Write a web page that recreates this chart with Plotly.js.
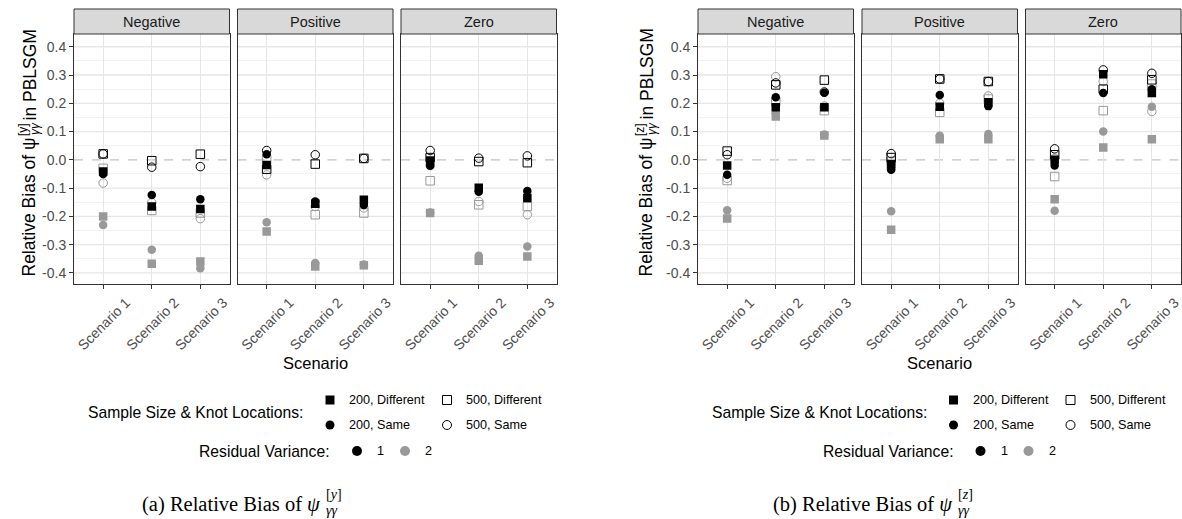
<!DOCTYPE html>
<html>
<head>
<meta charset="utf-8">
<script src="https://cdn.plot.ly/plotly-3.0.1.min.js"></script>
<style>html,body{margin:0;padding:0;background:#fff;}#plot{width:1182px;height:519px;}</style>
</head>
<body>
<div id="plot"></div>
<script>
// ---------------- DATA ----------------
const scenarios = ['Scenario 1', 'Scenario 2', 'Scenario 3'];
const facets = ['Negative', 'Positive', 'Zero'];
const yTickVals = [-0.4, -0.3, -0.2, -0.1, 0, 0.1, 0.2, 0.3, 0.4];
const yTickText = ['-0.4', '-0.3', '-0.2', '-0.1', '0.0', '0.1', '0.2', '0.3', '0.4'];
const refLine = 0;

// values ordered: Negative S1..S3, Positive S1..S3, Zero S1..S3
// (a) relative bias of psi[y]
const psiY_200Diff_v1 = [-0.041, -0.165, -0.174, -0.018, -0.155, -0.141, -0.002, -0.099, -0.135];
const psiY_200Same_v1 = [-0.050, -0.124, -0.139, 0.020, -0.147, -0.160, -0.021, -0.113, -0.110];
const psiY_500Diff_v1 = [0.021, -0.003, 0.020, -0.033, -0.015, 0.005, 0.008, -0.006, -0.010];
const psiY_500Same_v1 = [0.021, -0.026, -0.024, 0.033, 0.018, 0.005, 0.033, 0.006, 0.014];
const psiY_200Diff_v2 = [-0.200, -0.367, -0.359, -0.253, -0.377, -0.373, -0.188, -0.357, -0.342];
const psiY_200Same_v2 = [-0.230, -0.318, -0.383, -0.221, -0.365, -0.370, -0.186, -0.339, -0.306];
const psiY_500Diff_v2 = [-0.030, -0.179, -0.188, 0.000, -0.194, -0.188, -0.074, -0.159, -0.165];
const psiY_500Same_v2 = [-0.082, -0.151, -0.208, -0.053, -0.165, -0.170, -0.020, -0.147, -0.194];

// (b) relative bias of psi[z]
const psiZ_200Diff_v1 = [-0.020, 0.186, 0.186, -0.015, 0.188, 0.204, 0.000, 0.303, 0.236];
const psiZ_200Same_v1 = [-0.053, 0.221, 0.237, -0.035, 0.229, 0.190, -0.020, 0.236, 0.250];
const psiZ_500Diff_v1 = [0.031, 0.265, 0.282, 0.008, 0.286, 0.277, 0.018, 0.250, 0.283];
const psiZ_500Same_v1 = [0.018, 0.272, 0.240, 0.022, 0.286, 0.277, 0.039, 0.318, 0.306];
const psiZ_200Diff_v2 = [-0.207, 0.153, 0.086, -0.247, 0.073, 0.073, -0.139, 0.044, 0.073];
const psiZ_200Same_v2 = [-0.178, 0.165, 0.090, -0.182, 0.085, 0.091, -0.180, 0.100, 0.188];
const psiZ_500Diff_v2 = [-0.073, 0.205, 0.174, -0.005, 0.168, 0.215, -0.059, 0.174, 0.268];
const psiZ_500Same_v2 = [-0.065, 0.294, 0.190, -0.030, 0.200, 0.226, 0.005, 0.277, 0.171];

const sizeKnotLabels = ['200, Different', '500, Different', '200, Same', '500, Same'];
const residVarLabels = ['1', '2'];

// ---------------- STYLE / LAYOUT ----------------
const W = 1182, H = 519;
const px = v => v / W;
const py = v => 1 - v / H;
const BLACK = '#000000', GRAY = '#999999';
const FONT = 'Liberation Sans, Arial, Helvetica, sans-serif';
const SERIF = 'Liberation Serif, Times New Roman, serif';
const GRID = '#e6e6e6';

const charts = [
  {
    series: [
      {y: psiY_200Diff_v2, sym: 'square', col: GRAY},
      {y: psiY_200Same_v2, sym: 'circle', col: GRAY},
      {y: psiY_500Diff_v2, sym: 'square-open', col: GRAY},
      {y: psiY_500Same_v2, sym: 'circle-open', col: GRAY},
      {y: psiY_200Diff_v1, sym: 'square', col: BLACK},
      {y: psiY_200Same_v1, sym: 'circle', col: BLACK},
      {y: psiY_500Diff_v1, sym: 'square-open', col: BLACK},
      {y: psiY_500Same_v1, sym: 'circle-open', col: BLACK}
    ],
    panels: [[74, 229.5], [237.5, 393], [401, 556.5]],
    ylab: 'y', cap: '(a) Relative Bias of ', capSup: '[<i>y</i>]',
    ytitleX: 29, capSplit: 323, legCenter: 316
  },
  {
    series: [
      {y: psiZ_200Diff_v2, sym: 'square', col: GRAY},
      {y: psiZ_200Same_v2, sym: 'circle', col: GRAY},
      {y: psiZ_500Diff_v2, sym: 'square-open', col: GRAY},
      {y: psiZ_500Same_v2, sym: 'circle-open', col: GRAY},
      {y: psiZ_200Diff_v1, sym: 'square', col: BLACK},
      {y: psiZ_200Same_v1, sym: 'circle', col: BLACK},
      {y: psiZ_500Diff_v1, sym: 'square-open', col: BLACK},
      {y: psiZ_500Same_v1, sym: 'circle-open', col: BLACK}
    ],
    panels: [[698, 853.5], [862, 1017.5], [1025.5, 1181]],
    ylab: 'z', cap: '(b) Relative Bias of ', capSup: '[<i>z</i>]',
    ytitleX: 646, capSplit: 955, legCenter: 939.5
  }
];

const plotTop = 34, plotBottom = 284, stripTop = 9;
// minor grid positions (half steps between labelled ticks)
const minorVals = [];
for (let i = 0; i < yTickVals.length - 1; i++) minorVals.push(Math.round((yTickVals[i] + yTickVals[i + 1]) * 50) / 100);

const traces = [];
const layout = {
  width: W, height: H,
  margin: {l: 0, r: 0, t: 0, b: 0},
  paper_bgcolor: '#ffffff', plot_bgcolor: '#ffffff',
  showlegend: false,
  font: {family: FONT, color: '#000000'},
  shapes: [], annotations: []
};

charts.forEach((ch, c) => {
  ch.panels.forEach((pn, f) => {
    const idx = c * 3 + f + 1;
    const xa = 'x' + idx, ya = 'y' + idx;
    const first = f === 0;
    layout['xaxis' + idx] = {
      domain: [px(pn[0]), px(pn[1])], anchor: ya,
      type: 'category', categoryorder: 'array', categoryarray: scenarios,
      range: [-0.6, 2.6], fixedrange: true,
      showgrid: true, gridcolor: GRID, gridwidth: 1.3, zeroline: false,
      showline: true, mirror: true, linecolor: '#333333', linewidth: 1,
      ticks: 'outside', ticklen: 4, tickwidth: 1, tickcolor: '#333333',
      tickangle: -45, ticklabelshift: 23, ticklabelstandoff: 0,
      tickfont: {family: FONT, size: 14, color: '#4d4d4d'}
    };
    layout['yaxis' + idx] = {
      domain: [py(plotBottom), py(plotTop)], anchor: xa,
      range: [-0.439, 0.445], fixedrange: true,
      tickmode: 'array', tickvals: yTickVals, ticktext: yTickText,
      showgrid: false, zeroline: false,
      minor: {tickmode: 'array', tickvals: minorVals, showgrid: true, gridcolor: '#ededed', gridwidth: 0.7, ticks: ''},
      showline: true, mirror: true, linecolor: '#333333', linewidth: 1,
      ticks: first ? 'outside' : '', ticklen: 4, tickwidth: 1, tickcolor: '#333333',
      showticklabels: first,
      tickfont: {family: FONT, size: 14, color: '#4d4d4d'}
    };
    // major horizontal grid lines (all but the dashed reference line position)
    yTickVals.forEach(v => {
      if (v === refLine) return;
      layout.shapes.push({
        type: 'line', xref: xa, yref: ya, x0: -0.6, x1: 2.6, y0: v, y1: v,
        line: {color: GRID, width: 1.3}, layer: 'below'
      });
    });
    // dashed reference line at zero
    layout.shapes.push({
      type: 'line', xref: xa, yref: ya, x0: -0.6, x1: 2.6, y0: refLine, y1: refLine,
      line: {color: '#c2c2c2', width: 1.2, dash: 'dash'}, layer: 'below'
    });
    // strip
    layout.shapes.push({
      type: 'rect', xref: 'paper', yref: 'paper',
      x0: px(pn[0]), x1: px(pn[1]), y0: py(plotTop), y1: py(stripTop),
      fillcolor: '#d9d9d9', line: {color: '#333333', width: 1}
    });
    layout.annotations.push({
      xref: 'paper', yref: 'paper', x: px((pn[0] + pn[1]) / 2), y: py((plotTop + stripTop) / 2),
      text: facets[f], showarrow: false, xanchor: 'center', yanchor: 'middle',
      font: {family: FONT, size: 14.5, color: '#1a1a1a'}
    });
    ch.series.forEach(s => {
      const open = s.sym.indexOf('open') >= 0;
      traces.push({
        type: 'scatter', mode: 'markers', xaxis: xa, yaxis: ya,
        x: scenarios, y: s.y.slice(f * 3, f * 3 + 3),
        marker: {symbol: s.sym, size: 8.5, color: s.col, line: {color: s.col, width: open ? 1 : 0}},
        hoverinfo: 'skip'
      });
    });
  });

  // x title
  const pLeft = ch.panels[0][0], pRight = ch.panels[2][1];
  layout.annotations.push({
    xref: 'paper', yref: 'paper', x: px((pLeft + pRight) / 2), y: py(363),
    text: 'Scenario', showarrow: false, xanchor: 'center', yanchor: 'middle',
    font: {family: FONT, size: 16.5, color: '#000000'}
  });
  // y title pieces (rotated)
  const tx = ch.ytitleX;
  layout.annotations.push(
    {xref: 'paper', yref: 'paper', x: px(tx), y: py(136), text: 'Relative Bias of ψ', textangle: -90,
     showarrow: false, xanchor: 'center', yanchor: 'top', font: {family: FONT, size: 17.5, color: '#000'}},
    {xref: 'paper', yref: 'paper', x: px(tx - 6), y: py(130), text: '[' + ch.ylab + ']', textangle: -90,
     showarrow: false, xanchor: 'center', yanchor: 'middle', font: {family: FONT, size: 12, color: '#000'}},
    {xref: 'paper', yref: 'paper', x: px(tx + 6), y: py(129), text: '<i>γγ</i>', textangle: -90,
     showarrow: false, xanchor: 'center', yanchor: 'middle', font: {family: FONT, size: 12, color: '#000'}},
    {xref: 'paper', yref: 'paper', x: px(tx), y: py(122), text: 'in PBLSGM', textangle: -90,
     showarrow: false, xanchor: 'center', yanchor: 'bottom', font: {family: FONT, size: 17.5, color: '#000'}}
  );

  // legend (manual)
  const lc = ch.legCenter;
  const colA = lc + 14, colB = lc + 131;   // key centers
  const row1 = 400, row2 = 425, row3 = 451;
  layout.annotations.push({
    xref: 'paper', yref: 'paper', x: px(colA - 25), y: py((row1 + row2) / 2),
    text: 'Sample Size &amp; Knot Locations:', showarrow: false, xanchor: 'right', yanchor: 'middle',
    font: {family: FONT, size: 15.7, color: '#000'}
  });
  const keyDefs = [
    {x: colA, y: row1, shape: 'rect', fill: BLACK},
    {x: colB, y: row1, shape: 'rect', fill: 'rgba(0,0,0,0)'},
    {x: colA, y: row2, shape: 'circle', fill: BLACK},
    {x: colB, y: row2, shape: 'circle', fill: 'rgba(0,0,0,0)'}
  ];
  keyDefs.forEach((k, i) => {
    const r = 4.5;
    layout.shapes.push({
      type: k.shape, xref: 'paper', yref: 'paper',
      x0: px(k.x - r), x1: px(k.x + r), y0: py(k.y + r), y1: py(k.y - r),
      fillcolor: k.fill, line: {color: BLACK, width: k.fill === BLACK ? 0 : 1}
    });
    layout.annotations.push({
      xref: 'paper', yref: 'paper', x: px(k.x + 17), y: py(k.y),
      text: sizeKnotLabels[i], showarrow: false, xanchor: 'left', yanchor: 'middle',
      font: {family: FONT, size: 12.6, color: '#000'}
    });
  });
  const rvDot1 = lc + 41, rvDot2 = lc + 89;
  layout.annotations.push({
    xref: 'paper', yref: 'paper', x: px(rvDot1 - 25), y: py(row3),
    text: 'Residual Variance:', showarrow: false, xanchor: 'right', yanchor: 'middle',
    font: {family: FONT, size: 15.7, color: '#000'}
  });
  [[rvDot1, BLACK], [rvDot2, GRAY]].forEach((d, i) => {
    const r = 5;
    layout.shapes.push({
      type: 'circle', xref: 'paper', yref: 'paper',
      x0: px(d[0] - r), x1: px(d[0] + r), y0: py(row3 + r), y1: py(row3 - r),
      fillcolor: d[1], line: {width: 0}
    });
    layout.annotations.push({
      xref: 'paper', yref: 'paper', x: px(d[0] + 18), y: py(row3),
      text: residVarLabels[i], showarrow: false, xanchor: 'left', yanchor: 'middle',
      font: {family: FONT, size: 12.6, color: '#000'}
    });
  });

  // caption
  const cs = ch.capSplit;
  layout.annotations.push(
    {xref: 'paper', yref: 'paper', x: px(cs), y: py(504), text: ch.cap + '<i>ψ</i>', showarrow: false,
     xanchor: 'right', yanchor: 'middle', font: {family: SERIF, size: 20.5, color: '#000'}},
    {xref: 'paper', yref: 'paper', x: px(cs + 1), y: py(494), text: ch.capSup, showarrow: false,
     xanchor: 'left', yanchor: 'middle', font: {family: SERIF, size: 14, color: '#000'}},
    {xref: 'paper', yref: 'paper', x: px(cs + 1), y: py(510), text: '<i>γγ</i>', showarrow: false,
     xanchor: 'left', yanchor: 'middle', font: {family: SERIF, size: 14, color: '#000'}}
  );
});

Plotly.newPlot('plot', traces, layout, {staticPlot: true, displayModeBar: false});
</script>
</body>
</html>
